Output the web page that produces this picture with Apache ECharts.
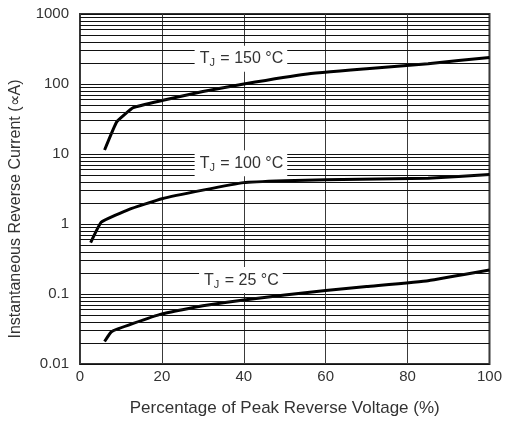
<!DOCTYPE html>
<html>
<head>
<meta charset="utf-8">
<script src="https://cdn.jsdelivr.net/npm/echarts@6/dist/echarts.min.js"></script>
<style>
  html, body { margin: 0; padding: 0; background: #fff; }
  #chart { width: 505px; height: 425px; }
</style>
</head>
<body>
<div id="chart"></div>
<script>
// curves: [percent of peak reverse voltage, current]
var tj150 = [[6, 11.4], [9, 29], [13, 46], [20, 58], [30, 78], [40, 100], [55, 138], [70, 165], [85, 195], [100, 240]];
var tj100 = [[2.6, 0.54], [5.2, 1.06], [12, 1.62], [20, 2.3], [30, 3.05], [40, 3.9], [50, 4.15], [60, 4.3], [85, 4.5], [100, 5.1]];
var tj25 = [[6, 0.021], [7.7, 0.029], [13, 0.038], [20, 0.052], [30, 0.068], [40, 0.082], [50, 0.097], [60, 0.112], [70, 0.128], [85, 0.155], [100, 0.22]];

var curveNames = ['150', '100', '25'];
var labelSpots = [[39.3, 230], [39.3, 7.4], [39.3, 0.158]];

var xTicks = [0, 20, 40, 60, 80, 100];
var yTicks = ['0.01', '0.1', '1', '10', '100', '1000'];

// minor log lines 2..9 in every decade
var minorLines = [];
[0.01, 0.1, 1, 10, 100].forEach(function (d) {
  for (var k = 2; k <= 9; k++) minorLines.push({ yAxis: d * k });
});

var chart = echarts.init(document.getElementById('chart'));

var font = 'Liberation Sans, Arial, sans-serif';
var txt = { fontFamily: font, color: '#333' };

var curveSeries = [tj150, tj100, tj25].map(function (d) {
  return {
    type: 'line',
    data: d,
    symbol: 'none',
    smooth: 0.1,
    z: 4,
    lineStyle: { color: '#000', width: 3 }
  };
});

var option = {
  animation: false,
  grid: {
    left: 80, right: 12, top: 14, bottom: 61,
    show: true, borderColor: '#333', borderWidth: 2, backgroundColor: 'transparent'
  },
  xAxis: {
    type: 'value',
    min: 0, max: 100, interval: 20,
    name: 'Percentage of Peak Reverse Voltage (%)',
    nameLocation: 'middle',
    nameGap: 36,
    nameTextStyle: Object.assign({ fontSize: 17 }, txt),
    axisLine: { show: false },
    axisTick: { show: false },
    axisLabel: Object.assign({ fontSize: 15, margin: 5, showMaxLabel: true,
      formatter: function (v) { return xTicks.indexOf(v) >= 0 ? String(v) : ''; } }, txt),
    splitLine: { show: true, lineStyle: { color: '#3a3a3a', width: 1 } }
  },
  yAxis: {
    type: 'log',
    logBase: 10,
    min: 0.01, max: 1000,
    name: 'Instantaneous Reverse Current (\u221DA)',
    nameLocation: 'middle',
    nameGap: 56,
    nameTextStyle: Object.assign({ fontSize: 16, padding: [0, 40, 0, 0] }, txt),
    axisLine: { show: false },
    axisTick: { show: false },
    axisLabel: Object.assign({ fontSize: 15, margin: 11,
      formatter: function (v) {
        var i = Math.round(Math.log10(v)) + 2;
        return yTicks[i] || '';
      } }, txt),
    splitLine: { show: true, lineStyle: { color: '#111', width: 1 } }
  },
  series: [
    {
      type: 'line',
      data: [],
      silent: true,
      z: 1,
      markLine: {
        silent: true,
        symbol: 'none',
        label: { show: false },
        lineStyle: { color: '#111', width: 1, type: 'solid' },
        data: minorLines
      }
    }
  ].concat(curveSeries)
};

chart.setOption(option);

// curve labels with white boxes that hide the grid behind them
chart.setOption({
  graphic: labelSpots.map(function (p, i) {
    var px = chart.convertToPixel({ gridIndex: 0 }, p);
    return {
      type: 'text',
      x: px[0], y: px[1],
      z: 100,
      silent: true,
      style: {
        text: '{t|T}{s|J}{t| = ' + curveNames[i] + ' \u00B0C}',
        align: 'center',
        verticalAlign: 'middle',
        backgroundColor: '#fff',
        padding: [3, 4, 3, 5],
        rich: {
          t: { fontFamily: font, fontSize: 16, lineHeight: 19, fill: '#333' },
          s: { fontFamily: font, fontSize: 11, padding: [9, 1, 0, 0], fill: '#333' }
        }
      }
    };
  })
});
</script>
</body>
</html>
